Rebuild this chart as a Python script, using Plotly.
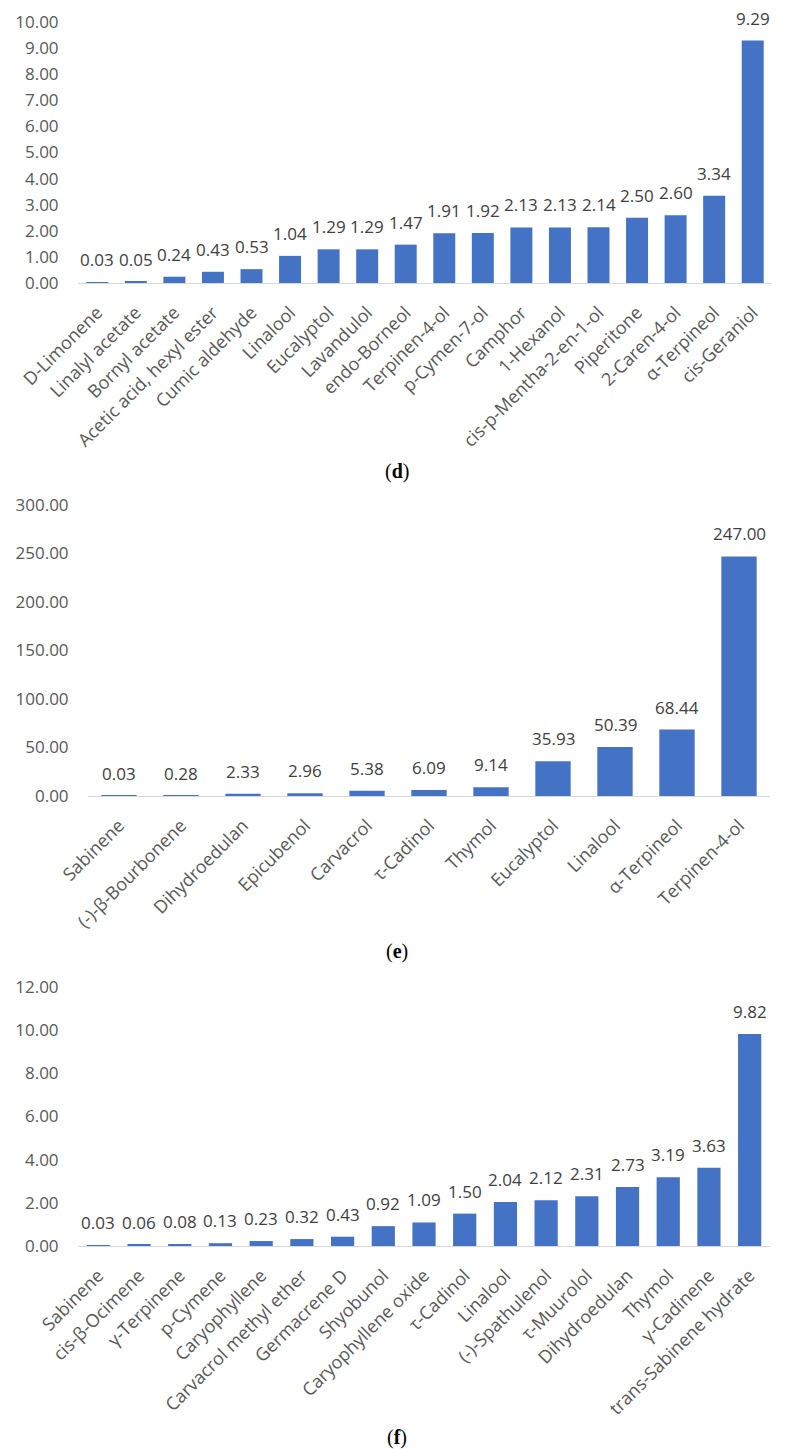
import plotly.graph_objects as go

# ---------------- data ----------------
d_categories = ["D-Limonene", "Linalyl acetate", "Bornyl acetate", "Acetic acid, hexyl ester",
                "Cumic aldehyde", "Linalool", "Eucalyptol", "Lavandulol", "endo-Borneol",
                "Terpinen-4-ol", "p-Cymen-7-ol", "Camphor", "1-Hexanol", "cis-p-Mentha-2-en-1-ol",
                "Piperitone", "2-Caren-4-ol", "α-Terpineol", "cis-Geraniol"]
d_values = [0.03, 0.05, 0.24, 0.43, 0.53, 1.04, 1.29, 1.29, 1.47, 1.91, 1.92, 2.13, 2.13, 2.14,
            2.50, 2.60, 3.34, 9.29]

e_categories = ["Sabinene", "(-)-β-Bourbonene", "Dihydroedulan", "Epicubenol", "Carvacrol",
                "τ-Cadinol", "Thymol", "Eucalyptol", "Linalool", "α-Terpineol", "Terpinen-4-ol"]
e_values = [0.03, 0.28, 2.33, 2.96, 5.38, 6.09, 9.14, 35.93, 50.39, 68.44, 247.00]

f_categories = ["Sabinene", "cis-β-Ocimene", "γ-Terpinene", "p-Cymene", "Caryophyllene",
                "Carvacrol methyl ether", "Germacrene D", "Shyobunol", "Caryophyllene oxide",
                "τ-Cadinol", "Linalool", "(-)-Spathulenol", "τ-Muurolol", "Dihydroedulan",
                "Thymol", "γ-Cadinene", "trans-Sabinene hydrate"]
f_values = [0.03, 0.06, 0.08, 0.13, 0.23, 0.32, 0.43, 0.92, 1.09, 1.50, 2.04, 2.12, 2.31, 2.73,
            3.19, 3.63, 9.82]

d_ticks = [0, 1, 2, 3, 4, 5, 6, 7, 8, 9, 10]
e_ticks = [0, 50, 100, 150, 200, 250, 300]
f_ticks = [0, 2, 4, 6, 8, 10, 12]

panel_labels = ["(<b>d</b>)", "(<b>e</b>)", "(<b>f</b>)"]

# ---------------- styling ----------------
W, H = 785, 1449
OFF = 8  # page body margin offset
BAR = "#4472C4"
TXT = "#404040"
TICK = "#595959"
FONT = "Open Sans"


def py(px):
    return 1 - (px - OFF) / H


def pxx(px):
    return (px - OFF) / W


panels = [
    dict(cats=d_categories, vals=d_values, ticks=d_ticks, rng=[0, 10],
         xdom=[pxx(78), pxx(772)], ydom=[py(283), py(22)], title_y=471),
    dict(cats=e_categories, vals=e_values, ticks=e_ticks, rng=[0, 300],
         xdom=[pxx(88), pxx(770)], ydom=[py(796), py(505)], title_y=952),
    dict(cats=f_categories, vals=f_values, ticks=f_ticks, rng=[0, 12],
         xdom=[pxx(78), pxx(770)], ydom=[py(1246), py(987)], title_y=1437),
]

fig = go.Figure()
annotations = []
layout = {}

for i, p in enumerate(panels):
    n = "" if i == 0 else str(i + 1)
    xa, ya = "x" + n, "y" + n
    fig.add_trace(go.Bar(x=p["cats"], y=p["vals"], marker_color=BAR, marker_line_width=0,
                         xaxis=xa, yaxis=ya, showlegend=False, hoverinfo="x+y"))
    for c, v in zip(p["cats"], p["vals"]):
        annotations.append(dict(x=c, y=v, xref=xa, yref=ya, text=f"{v:.2f}", showarrow=False,
                                yanchor="bottom", yshift=9,
                                font=dict(family=FONT, size=17, color=TXT)))
    annotations.append(dict(x=pxx(397), y=py(p["title_y"]), xref="paper", yref="paper",
                            text=panel_labels[i], showarrow=False, xanchor="center",
                            yanchor="middle",
                            font=dict(family="Liberation Serif", size=20, color="#000000")))
    layout["xaxis" + n] = dict(domain=p["xdom"], anchor=ya, showline=True, linecolor="#D9D9D9",
                               linewidth=1, showgrid=False, zeroline=False, tickangle=-45,
                               ticks="outside", ticklen=11, tickcolor="rgba(0,0,0,0)",
                               automargin=False,
                               tickfont=dict(family=FONT, size=18, color=TICK),
                               fixedrange=True)
    layout["yaxis" + n] = dict(domain=p["ydom"], anchor=xa, range=p["rng"], tickvals=p["ticks"],
                               tickformat=".2f", showline=False, showgrid=False, zeroline=False,
                               ticks="outside", ticklen=15, tickcolor="rgba(0,0,0,0)",
                               automargin=False,
                               tickfont=dict(family=FONT, size=17, color=TICK), fixedrange=True)

fig.update_layout(width=W, height=H, margin=dict(l=0, r=0, t=0, b=0, autoexpand=False),
                  paper_bgcolor="white", plot_bgcolor="white", bargap=0.43,
                  annotations=annotations, **layout)

fig.write_html("out.html")
